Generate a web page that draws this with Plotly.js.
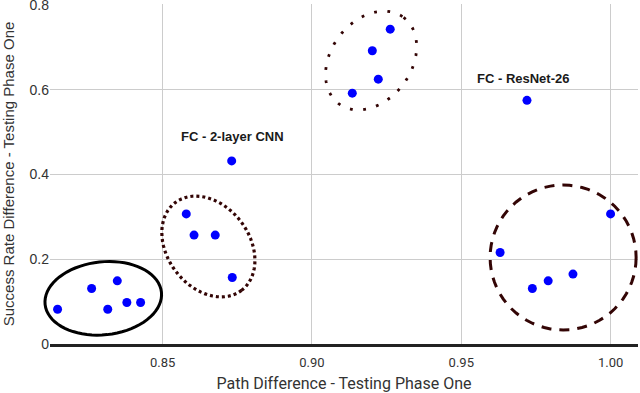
<!DOCTYPE html>
<html>
<head>
<meta charset="utf-8">
<script src="https://cdn.plot.ly/plotly-3.0.1.min.js"></script>
<style>
  html, body { margin: 0; padding: 0; background: #fff; }
  #plot { width: 640px; height: 393px; }
</style>
</head>
<body>
<div id="plot"></div>
<script>
// path difference (x) and success rate difference (y), testing phase one
const pathDiff = [
  0.8148, 0.8262, 0.8316, 0.8348, 0.8380, 0.8426,
  0.8579, 0.8605, 0.8676, 0.8733, 0.8731,
  0.9135, 0.9222, 0.9202, 0.9262, 0.9720,
  1.0000, 0.9630, 0.9738, 0.9791, 0.9874,
]
const successDiff = [
  0.082, 0.131, 0.082, 0.149, 0.098, 0.098,
  0.307, 0.257, 0.257, 0.157, 0.432,
  0.592, 0.625, 0.692, 0.743, 0.575,
  0.307, 0.216, 0.131, 0.149, 0.165,
]

// labelled points: index into the arrays above
const labelText = ['FC - 2-layer CNN', 'FC - ResNet-26']
const labelIdx = [10, 15]

// cluster outlines: centre in data units, semi axes in px, tilt in degrees
const clusterCx = [0.8301, 0.8653, 0.9198, 0.9841]
const clusterCy = [0.1078, 0.2301, 0.6690, 0.2041]

const yTicks = [0, 0.2, 0.4, 0.6, 0.8]
const yTickText = ['0', '0.2', '0.4', '0.6', '0.8']
const xTicks = [0.85, 0.9, 0.95, 1.0]

const xRange = [0.81226, 1.00918]
const yRange = [0, 0.80236]
const margin = {l: 50, r: 2, t: 4, b: 49}
const W = 640 - margin.l - margin.r
const H = 393 - margin.t - margin.b

const toPx = (x, y) => [
  (x - xRange[0]) / (xRange[1] - xRange[0]),
  (y - yRange[0]) / (yRange[1] - yRange[0]),
]

const ellipsePath = (cx, cy, a, b, deg) => {
  const [px, py] = toPx(cx, cy)
  const th = (deg * Math.PI) / 180
  const pts = []
  for (let i = 0; i <= 72; i++) {
    const t = (i / 72) * 2 * Math.PI
    const dx = a * Math.cos(t) * Math.cos(th) - b * Math.sin(t) * Math.sin(th)
    const dy = a * Math.cos(t) * Math.sin(th) + b * Math.sin(t) * Math.cos(th)
    pts.push(`${(px + dx / W).toFixed(5)},${(py - dy / H).toFixed(5)}`)
  }
  return 'M' + pts.join('L') + 'Z'
}

const brown = '#330505'
const shapes = [
  {
    type: 'path', xref: 'paper', yref: 'paper',
    path: ellipsePath(clusterCx[0], clusterCy[0], 58.5, 36.5, -6),
    line: {color: '#000', width: 3},
  },
  {
    type: 'path', xref: 'paper', yref: 'paper',
    path: ellipsePath(clusterCx[1], clusterCy[1], 55, 41, 53),
    line: {color: brown, width: 3.2, dash: '3px,3px'},
  },
  {
    type: 'path', xref: 'paper', yref: 'paper',
    path: ellipsePath(clusterCx[2], clusterCy[2], 54, 40, -53),
    line: {color: brown, width: 2.8, dash: '2.8px,10.5px'},
  },
  {
    type: 'path', xref: 'paper', yref: 'paper',
    path: ellipsePath(clusterCx[3], clusterCy[3], 73, 72.5, 0),
    line: {color: brown, width: 3, dash: '10px,8px'},
  },
]

const annotations = labelText.map((txt, i) => ({
  x: pathDiff[labelIdx[i]],
  y: successDiff[labelIdx[i]],
  xref: 'x', yref: 'y',
  text: '<b>' + txt + '</b>',
  showarrow: false,
  yshift: i === 0 ? 24 : 22,
  xshift: i === 0 ? 1 : -4,
  font: {family: 'Liberation Sans, Arial, sans-serif', size: 13, color: '#1a1a1a'},
}))

const trace = {
  x: pathDiff,
  y: successDiff,
  type: 'scatter',
  mode: 'markers',
  marker: {color: '#0000ff', size: 9},
  hoverinfo: 'none',
  cliponaxis: false,
}

const layout = {
  width: 640,
  height: 393,
  margin: margin,
  paper_bgcolor: '#fff',
  plot_bgcolor: '#fff',
  showlegend: false,
  font: {family: 'Roboto, sans-serif', color: '#333'},
  xaxis: {
    range: xRange,
    tickvals: xTicks,
    tickformat: '.2f',
    gridcolor: '#cccccc',
    gridwidth: 1,
    zeroline: false,
    showline: true,
    linecolor: '#222',
    linewidth: 3,
    ticks: '',
    ticklabelstandoff: 4,
    tickfont: {size: 13, color: '#333'},
    title: {text: 'Path Difference - Testing Phase One', font: {size: 16, color: '#333'}, standoff: 12},
  },
  yaxis: {
    range: yRange,
    tickvals: yTicks,
    ticktext: yTickText,
    ticklabeloverflow: 'allow',
    gridcolor: '#cccccc',
    gridwidth: 1,
    zeroline: false,
    showline: false,
    ticks: '',
    tickfont: {family: 'Liberation Sans, Arial, sans-serif', size: 14, color: '#333'},
    title: {
      text: 'Success Rate Difference - Testing Phase One',
      font: {family: 'Liberation Sans, Arial, sans-serif', size: 15, color: '#333'},
      standoff: 12,
    },
  },
  shapes: shapes,
  annotations: annotations,
}

Plotly.newPlot('plot', [trace], layout, {staticPlot: true})
</script>
</body>
</html>
